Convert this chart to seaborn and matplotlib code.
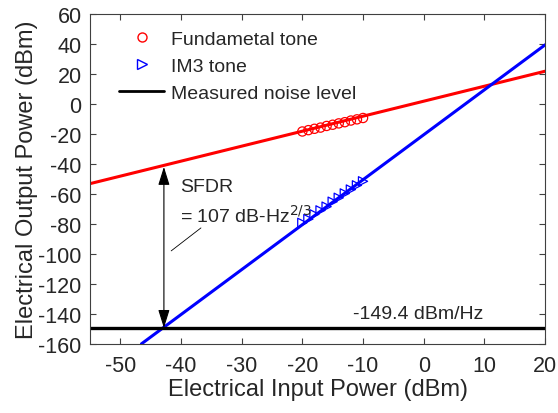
import numpy as np
import pandas as pd
import matplotlib
matplotlib.use('Agg')
import matplotlib.pyplot as plt
from matplotlib.lines import Line2D
import seaborn as sns

sns.set_style('ticks')
plt.rcParams['font.family'] = ['Liberation Sans', 'DejaVu Sans']
plt.rcParams['axes.unicode_minus'] = False

# measured points
p_in = [-20, -19, -18, -17, -16, -15, -14, -13, -12, -11, -10]
fund_out = [-18.4, -17.5, -16.6, -15.8, -14.7, -13.9, -13.0, -12.2, -11.1, -10.3, -9.4]
im3_out = [-79.3, -76.8, -73.6, -71.0, -68.5, -65.2, -62.6, -59.7, -57.1, -54.3, -51.6]

# fitted lines
fund_fit_x = [-55, 20]
fund_fit_y = [-53.2, 21.8]
im3_fit_x = [-46.5, 20]
im3_fit_y = [-160, 39.4]
noise_x = [-55, 20]
noise_y = [-149.4, -149.4]

# SFDR marker
sfdr_x = -42.8
sfdr_top = -42.0
noise_level = -149.4

fig = plt.figure(figsize=(5.58, 4.14), dpi=100)
ax = fig.add_axes([0.161, 0.167, 0.816, 0.797])

sns.lineplot(x=fund_fit_x, y=fund_fit_y, color='#ff0000', lw=2.2, ax=ax)
sns.lineplot(x=im3_fit_x, y=im3_fit_y, color='#0000ff', lw=2.2, ax=ax)
sns.lineplot(x=noise_x, y=noise_y, color='black', lw=2.4, ax=ax)

ax.scatter(p_in, fund_out, marker='o', s=44, facecolors='none', edgecolors='#ff0000', linewidths=0.9, zorder=3)
ax.scatter(p_in, im3_out, marker='>', s=44, facecolors='none', edgecolors='#0000ff', linewidths=0.9, zorder=3)

# SFDR arrow
ax.annotate('', xy=(sfdr_x, sfdr_top), xytext=(sfdr_x, noise_level),
            arrowprops=dict(arrowstyle='<|-|>,head_length=0.8,head_width=0.25', color='black', lw=0.8,
                            mutation_scale=14, shrinkA=0, shrinkB=0))
ax.plot([-41.6, -36.7], [-98, -82.7], color='black', lw=0.6)
ax.text(-40.2, -55, 'SFDR', fontsize=14, va='center', ha='left')
ax.text(-40.2, -74, '= 107 dB-Hz$^{2/3}$', fontsize=14, va='center', ha='left')
ax.text(-0.9, -140, '-149.4 dBm/Hz', fontsize=14, va='center', ha='center')

ax.set_xlim(-55, 20)
ax.set_ylim(-160, 60)
ax.set_xticks(np.arange(-50, 21, 10))
ax.set_yticks(np.arange(-160, 61, 20))
ax.tick_params(direction='in', top=True, right=True, labelsize=15.5, length=4, color='#404040')
ax.tick_params(axis='x', pad=8)
ax.tick_params(axis='y', pad=6)
for s in ax.spines.values():
    s.set_color('#404040')
    s.set_linewidth(0.8)
ax.set_xlabel('Electrical Input Power (dBm)', fontsize=17, va='center')
ax.set_ylabel('Electrical Output Power (dBm)', fontsize=17, va='center')
ax.xaxis.set_label_coords(0.5, -0.138)
ax.yaxis.set_label_coords(-0.139, 0.5)

handles = [Line2D([], [], ls='', marker='o', mfc='none', mec='#ff0000', ms=6.5),
           Line2D([], [], ls='', marker='>', mfc='none', mec='#0000ff', ms=6.5),
           Line2D([], [], color='black', lw=2)]
ax.legend(handles, ['Fundametal tone', 'IM3 tone', 'Measured noise level'],
          loc='upper left', bbox_to_anchor=(0.048, 0.975), frameon=False, fontsize=14,
          handlelength=2.3, borderaxespad=0, labelspacing=0.5, handletextpad=0.35)

fig.savefig('out.png', dpi=100)
